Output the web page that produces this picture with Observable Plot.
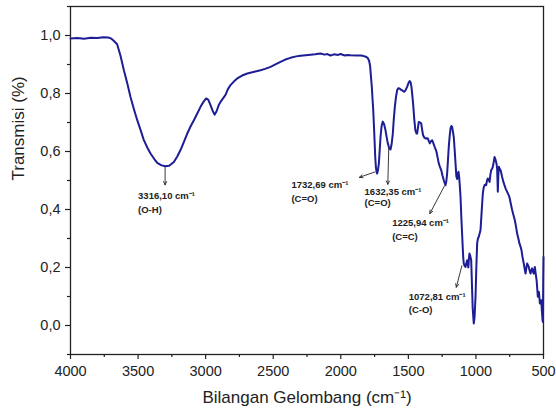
<!DOCTYPE html>
<html>
<head>
<meta charset="utf-8">
<script src="https://cdn.jsdelivr.net/npm/d3@7"></script>
<script src="https://cdn.jsdelivr.net/npm/@observablehq/plot@0.6"></script>
<style>
  html, body { margin: 0; padding: 0; background: #fff; }
</style>
</head>
<body>
<div id="chart"></div>
<script>
// Wavenumber (cm-1) and transmittance
const wavenumber = [4000,3950,3900,3850,3800,3760,3720,3700,3680,3655,3630,3605,3580,3556,3530,3506,3480,3458,3430,3408,3380,3358,3330,3300,3270,3235,3210,3186,3160,3136,3110,3087,3060,3038,3015,2996,2980,2964,2948,2934,2920,2903,2890,2870,2853,2835,2816,2790,2766,2730,2692,2640,2594,2560,2520,2480,2446,2410,2372,2330,2298,2260,2224,2190,2150,2120,2100,2076,2050,2020,2002,1970,1950,1928,1880,1850,1830,1815,1800,1790,1783,1777,1770,1765,1760,1752,1745,1740,1735,1731,1725,1718,1712,1706,1698,1689,1680,1669,1660,1652,1642,1632,1624,1615,1608,1600,1592,1583,1575,1565,1555,1546,1538,1529,1520,1509,1500,1490,1483,1477,1471,1465,1456,1448,1440,1435,1428,1423,1414,1405,1398,1391,1382,1373,1365,1356,1348,1341,1332,1324,1316,1307,1300,1292,1283,1275,1265,1257,1248,1238,1230,1225,1219,1213,1207,1201,1194,1188,1182,1176,1170,1164,1158,1151,1145,1139,1134,1129,1124,1119,1114,1107,1099,1094,1090,1083,1077,1071,1065,1060,1056,1051,1048,1042,1035,1030,1024,1016,1010,1003,997,991,985,979,972,966,958,949,943,936,930,924,918,912,906,899,893,887,881,875,868,862,855,848,843,838,834,830,824,818,812,806,798,789,780,769,760,752,742,732,722,712,703,695,686,678,670,663,655,646,640,633,627,621,615,609,603,596,590,584,578,572,568,564,558,551,546,542,538,534,530,527,522,517,512,507,504,502,500];
const transmittance = [0.990,0.991,0.989,0.992,0.991,0.994,0.993,0.990,0.982,0.970,0.930,0.880,0.835,0.788,0.745,0.708,0.672,0.640,0.612,0.593,0.574,0.561,0.553,0.549,0.551,0.564,0.583,0.605,0.634,0.662,0.688,0.708,0.733,0.754,0.772,0.783,0.778,0.760,0.740,0.727,0.738,0.760,0.771,0.784,0.795,0.815,0.829,0.842,0.852,0.862,0.869,0.875,0.880,0.885,0.892,0.901,0.909,0.917,0.923,0.928,0.930,0.932,0.934,0.935,0.938,0.934,0.936,0.931,0.935,0.933,0.936,0.931,0.933,0.932,0.931,0.931,0.929,0.927,0.922,0.912,0.895,0.860,0.820,0.780,0.745,0.660,0.580,0.545,0.528,0.524,0.535,0.560,0.605,0.650,0.688,0.703,0.695,0.673,0.648,0.628,0.612,0.607,0.625,0.662,0.710,0.754,0.787,0.811,0.818,0.817,0.813,0.811,0.808,0.806,0.812,0.823,0.835,0.843,0.838,0.823,0.795,0.766,0.710,0.673,0.662,0.662,0.685,0.702,0.700,0.697,0.675,0.656,0.648,0.645,0.646,0.645,0.635,0.628,0.636,0.639,0.630,0.618,0.610,0.599,0.578,0.559,0.545,0.536,0.518,0.501,0.490,0.484,0.498,0.524,0.570,0.616,0.655,0.680,0.688,0.685,0.668,0.650,0.610,0.560,0.515,0.505,0.524,0.530,0.512,0.480,0.443,0.363,0.283,0.235,0.214,0.205,0.202,0.215,0.225,0.210,0.200,0.235,0.248,0.240,0.225,0.150,0.060,0.007,0.030,0.099,0.200,0.283,0.300,0.306,0.318,0.329,0.390,0.455,0.475,0.484,0.486,0.484,0.500,0.507,0.503,0.495,0.520,0.536,0.540,0.547,0.565,0.581,0.572,0.559,0.540,0.461,0.520,0.547,0.540,0.536,0.525,0.512,0.497,0.484,0.472,0.461,0.452,0.443,0.420,0.398,0.380,0.363,0.340,0.317,0.300,0.283,0.272,0.260,0.235,0.214,0.196,0.179,0.198,0.214,0.208,0.202,0.190,0.179,0.190,0.197,0.185,0.179,0.190,0.202,0.180,0.156,0.125,0.099,0.108,0.116,0.095,0.076,0.082,0.087,0.050,0.018,0.012,0.150,0.236];

// Tick values
const xTicks = [4000, 3500, 3000, 2500, 2000, 1500, 1000, 500];
const xMinorTicks = [3750, 3250, 2750, 2250, 1750, 1250, 750];
const yTicks = [0, 0.2, 0.4, 0.6, 0.8, 1.0];
const yMinorTicks = [-0.1, 0.1, 0.3, 0.5, 0.7, 0.9, 1.1];

// Annotations: peak label, group label, label anchor, arrow start/end
const peakLabels = ["3316,10 cm⁻¹", "1732,69 cm⁻¹", "1632,35 cm⁻¹", "1225,94 cm⁻¹", "1072,81 cm⁻¹"];
const groupLabels = ["(O-H)", "(C=O)", "(C=O)", "(C=C)", "(C-O)"];
const labelX = [3500, 2365, 1824, 1620, 1497];
const labelY = [0.445, 0.484, 0.461, 0.352, 0.099];
const groupY = [0.400, 0.436, 0.422, 0.306, 0.053];
const arrowX1 = [3300, 1750, 1645, 1232, 1104];
const arrowY1 = [0.545, 0.529, 0.612, 0.482, 0.206];
const arrowX2 = [3300, 1862, 1652, 1341, 1145];
const arrowY2 = [0.485, 0.511, 0.487, 0.386, 0.132];

const xTitle = "Bilangan Gelombang (cm⁻¹)";
const yTitle = "Transmisi (%)";

const spectrum = wavenumber.map((w, i) => ({w, t: transmittance[i]}));
const notes = peakLabels.map((p, i) => ({
  p, g: groupLabels[i], lx: labelX[i], ly: labelY[i], gy: groupY[i],
  x1: arrowX1[i], y1: arrowY1[i], x2: arrowX2[i], y2: arrowY2[i]
}));

const fmtY = d => d.toFixed(1).replace(".", ",");
const fmtX = d => String(d);
const font = "'Liberation Sans', Arial, sans-serif";

const chart = Plot.plot({
  width: 556,
  height: 413,
  marginTop: 6,
  marginRight: 13,
  marginBottom: 59,
  marginLeft: 70,
  style: {fontFamily: font, fontSize: "14.5px", color: "#222", background: "#fff"},
  x: {domain: [4000, 500]},
  y: {domain: [-0.1, 1.1]},
  marks: [
    Plot.axisX(xTicks, {tickSize: 5, tickPadding: 6, tickFormat: fmtX, label: null, stroke: "#222", strokeWidth: 1.2}),
    Plot.axisX(xMinorTicks, {tickSize: 3, text: null, label: null, stroke: "#222", strokeWidth: 1.2}),
    Plot.axisY(yTicks, {tickSize: 5, tickPadding: 5, tickFormat: fmtY, label: null, stroke: "#222", strokeWidth: 1.2}),
    Plot.axisY(yMinorTicks, {tickSize: 3, text: null, label: null, stroke: "#222", strokeWidth: 1.2}),
    Plot.frame({stroke: "#222", strokeWidth: 1.3}),
    Plot.line(spectrum, {x: "w", y: "t", stroke: "#1d1d96", strokeWidth: 2, curve: "linear"}),
    Plot.arrow(notes, {x1: "x1", y1: "y1", x2: "x2", y2: "y2", stroke: "#222", strokeWidth: 0.9, headLength: 6, headAngle: 50}),
    Plot.text(notes, {x: "lx", y: "ly", text: "p", textAnchor: "start", fontSize: 9.5, fontWeight: "bold", fill: "#222"}),
    Plot.text(notes, {x: "lx", y: "gy", text: "g", textAnchor: "start", fontSize: 9.5, fontWeight: "bold", fill: "#222"}),
    Plot.text([xTitle], {text: d => d, frameAnchor: "bottom", dy: 48, fontSize: 17, fill: "#222"}),
    Plot.text([yTitle], {text: d => d, frameAnchor: "left", dx: -52, rotate: -90, fontSize: 17, fill: "#222"})
  ]
});
document.getElementById("chart").appendChild(chart);
</script>
</body>
</html>
